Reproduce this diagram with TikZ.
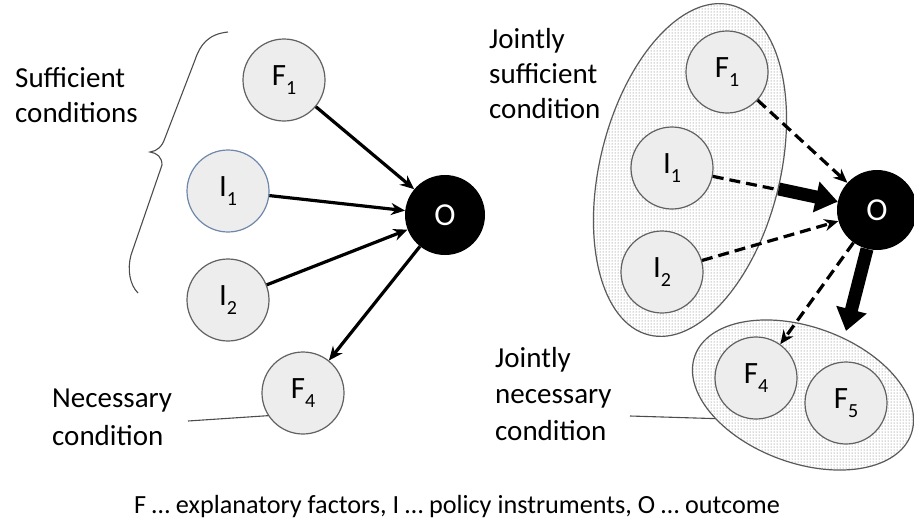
\documentclass[tikz,border=0pt]{standalone}
\usepackage{fontspec}
\setmainfont{Carlito}
\usetikzlibrary{arrows.meta,patterns,shapes.geometric}
\newcommand\subx[1]{\raisebox{-0.3em}{\fontsize{20}{20}\selectfont #1}}
\begin{document}
\begin{tikzpicture}[x=1pt,y=-1pt,
  circ/.style={circle, draw=black!62, fill=black!7, line width=1.2pt, minimum size=82pt, inner sep=0pt, font=\fontsize{31}{31}\selectfont},
  outc/.style={circle, fill=black, text=white, minimum size=80pt, inner sep=0pt, font=\fontsize{32}{32}\selectfont},
  arr/.style={-{Stealth[length=14pt,width=12pt]}, line width=3.2pt},
  darr/.style={arr, dash pattern=on 11pt off 6pt},
  bigarr/.style={-{Triangle[length=22pt,width=30pt]}, line width=13pt},
  lbl/.style={align=left, font=\fontsize{29}{35}\selectfont, inner sep=0pt, anchor=base west},
  grp/.style={ellipse, draw=black!65, line width=1.2pt, fill=white, inner sep=0pt, postaction={pattern=dots, pattern color=black!60}},
  thinline/.style={draw=black!70, line width=1.1pt}
]
\useasboundingbox (0,0) rectangle (914,531);

% ---------- left diagram ----------
\node[circ] (F1l) at (284,80) {F\subx{1}};
\node[circ, draw={rgb,255:red,110;green,135;blue,170}] (I1l) at (228,191) {I\subx{1}};
\node[circ] (I2l) at (228,300) {I\subx{2}};
\node[circ] (F4l) at (303,393) {F\subx{4}};
\node[outc] (Ol) at (445,215) {O};

\draw[arr] (F1l) -- (Ol);
\draw[arr] (I1l) -- (Ol);
\draw[arr] (I2l) -- (Ol);
\draw[arr] (Ol) -- (F4l);

\draw[thinline] (228,32) .. controls (208,34) and (200,45) .. (195,60) -- (165,138) .. controls (162,147) and (157,151) .. (150,152) .. controls (157,153) and (162,157) .. (162,165) -- (131,255) .. controls (127,270) and (130,285) .. (138,293);

\node[lbl] (suff) at (15,122) {Sufficient\\conditions};
\node[lbl, font=\fontsize{29}{38}\selectfont] (nec) at (52,445) {Necessary\\condition};
\coordinate (nl) at (188,421);
\draw[thinline] (nl) -- (F4l.213);

% ---------- right diagram ----------
\node[grp, minimum width=340pt, minimum height=180pt, rotate=76] (bigell) at (690,170) {};
\node[grp, minimum width=230pt, minimum height=136pt, rotate=-20] (lowell) at (803,395) {};

\node[circ] (F1r) at (727,72) {F\subx{1}};
\node[circ] (I1r) at (672,168) {I\subx{1}};
\node[circ] (I2r) at (662,272) {I\subx{2}};
\node[circ] (F4r) at (756,378) {F\subx{4}};
\node[circ] (F5r) at (846,403) {F\subx{5}};
\node[outc] (Or) at (877,210) {O};

\draw[darr] (F1r) -- (Or);
\draw[darr] (I1r) -- (Or);
\draw[darr] (I2r) -- (Or);
\draw[darr] (Or) -- (F4r);

\draw[bigarr] (bigell) -- (Or);
\coordinate (lt) at (846,331);
\draw[bigarr] (Or) -- (lt);

\node[lbl] (jsuff) at (489,118) {Jointly\\sufficient\\condition};
\node[lbl, font=\fontsize{29}{36.5}\selectfont] (jnec) at (495,440) {Jointly\\necessary\\condition};
\coordinate (nr) at (630,416);
\draw[thinline] (nr) -- (lowell.215);

% ---------- caption ----------
\node[font=\fontsize{26.2}{26.2}\selectfont, anchor=base] (cap) at (457,513) {F … explanatory factors, I … policy instruments, O … outcome};
\end{tikzpicture}
\end{document}
